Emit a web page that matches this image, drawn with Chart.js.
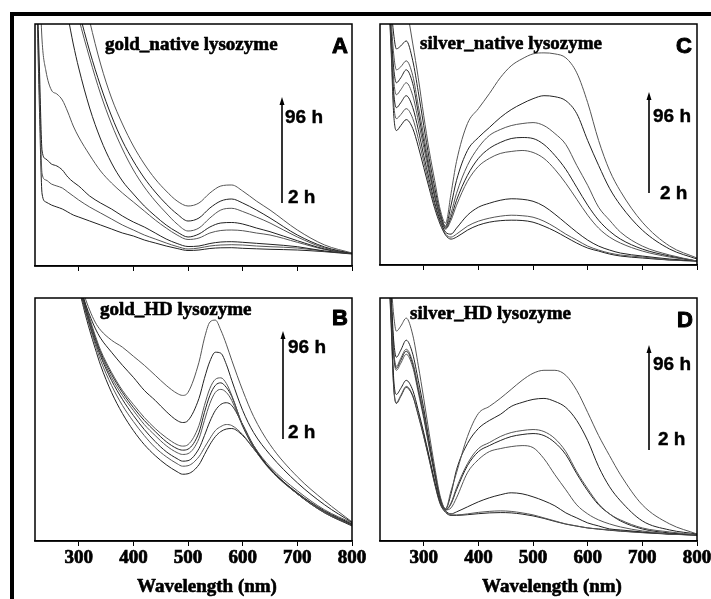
<!DOCTYPE html>
<html>
<head>
<meta charset="utf-8">
<script src="https://cdn.jsdelivr.net/npm/chart.js@4.4.0/dist/chart.umd.min.js"></script>
<style>
  html, body { margin: 0; padding: 0; background: #fff; overflow: hidden; }
  #page { position: relative; width: 711px; height: 599px; overflow: hidden; background: #fff; }
  #frame { position: absolute; left: 10px; top: 12px; width: 720px; height: 600px;
           border-top: 4px solid #000; border-left: 4px solid #000; }
  canvas { position: absolute; }
</style>
</head>
<body>
<div id="page">
  <div id="frame"></div>
  <canvas id="cA" width="357" height="264" style="left:15px;top:22px"></canvas>
  <canvas id="cC" width="357" height="263" style="left:360px;top:22px"></canvas>
  <canvas id="cB" width="357" height="303" style="left:15px;top:296px"></canvas>
  <canvas id="cD" width="357" height="303" style="left:360px;top:296px"></canvas>
</div>
<script>
// x tick labels (nm)
const xTicks = [300, 400, 500, 600, 700, 800];
const xTitle = 'Wavelength (nm)';

// wavelength grids (nm)
const wlGold = [220, 228, 233, 240, 250, 260, 270, 280, 290, 300, 320, 340, 360, 380, 400, 420, 440, 460, 480, 500, 520, 540, 560, 580, 600, 625, 650, 700, 750, 800];
const wlGoldHD = [220, 260, 300, 310, 320, 330, 340, 360, 380, 400, 420, 440, 460, 480, 490, 500, 520, 530, 540, 550, 560, 570, 580, 600, 620, 650, 700, 750, 800];
const wlSilver = [220, 230, 240, 245, 250, 258, 268, 280, 290, 300, 310, 320, 330, 340, 350, 360, 380, 400, 420, 440, 460, 480, 500, 520, 540, 560, 580, 600, 620, 640, 660, 700, 750, 800];

// A: gold_native lysozyme (absorbance)
const gn1 = [6.0, 5.6, 5.3, 5.0, 4.5, 4.1, 3.8, 3.5, 3.2, 2.95, 2.45, 2.02, 1.68, 1.42, 1.2, 1.02, 0.87, 0.75, 0.65, 0.6, 0.63, 0.73, 0.8, 0.81, 0.75, 0.65, 0.56, 0.36, 0.21, 0.13];
const gn2 = [5.5, 5.1, 4.8, 4.5, 4.1, 3.7, 3.4, 3.1, 2.8, 2.56, 2.15, 1.8, 1.5, 1.25, 1.05, 0.88, 0.74, 0.62, 0.52, 0.45, 0.48, 0.58, 0.65, 0.67, 0.63, 0.56, 0.48, 0.31, 0.19, 0.125];
const gn3 = [5.4, 5.0, 4.7, 4.4, 4.0, 3.6, 3.3, 3.0, 2.72, 2.48, 2.08, 1.72, 1.42, 1.17, 0.96, 0.79, 0.65, 0.53, 0.42, 0.35, 0.38, 0.48, 0.56, 0.577, 0.545, 0.49, 0.43, 0.29, 0.18, 0.125];
const gn4 = [4.5, 4.2, 4.0, 3.7, 3.3, 3.0, 2.75, 2.5, 2.22, 1.98, 1.58, 1.27, 1.03, 0.85, 0.72, 0.6, 0.5, 0.41, 0.34, 0.29, 0.32, 0.39, 0.43, 0.435, 0.42, 0.38, 0.343, 0.253, 0.17, 0.125];
const gn5 = [4.0, 2.9, 2.25, 1.95, 1.76, 1.72, 1.66, 1.54, 1.4, 1.29, 1.11, 0.95, 0.83, 0.73, 0.64, 0.55, 0.46, 0.38, 0.31, 0.265, 0.28, 0.33, 0.355, 0.36, 0.353, 0.33, 0.31, 0.237, 0.165, 0.125];
const gn6 = [3.5, 2.0, 1.15, 1.07, 1.02, 1.0, 0.96, 0.89, 0.84, 0.8, 0.7, 0.63, 0.57, 0.5, 0.44, 0.39, 0.33, 0.27, 0.225, 0.195, 0.2, 0.225, 0.24, 0.243, 0.237, 0.227, 0.217, 0.193, 0.15, 0.125];
const gn7 = [3.5, 1.8, 0.92, 0.86, 0.82, 0.8, 0.78, 0.74, 0.7, 0.66, 0.59, 0.53, 0.47, 0.41, 0.36, 0.31, 0.27, 0.23, 0.195, 0.17, 0.18, 0.2, 0.21, 0.213, 0.21, 0.2, 0.193, 0.18, 0.148, 0.125];
const gn8 = [3.5, 1.6, 0.72, 0.64, 0.61, 0.59, 0.57, 0.54, 0.51, 0.49, 0.45, 0.41, 0.37, 0.33, 0.3, 0.26, 0.23, 0.2, 0.175, 0.155, 0.16, 0.175, 0.182, 0.183, 0.177, 0.172, 0.167, 0.16, 0.143, 0.12];

// B: gold_HD lysozyme
const gh1 = [6, 4, 2.65, 2.45, 2.3, 2.18, 2.1, 2.0, 1.93, 1.84, 1.75, 1.65, 1.55, 1.47, 1.45, 1.48, 1.78, 2.02, 2.18, 2.2, 2.1, 1.96, 1.8, 1.5, 1.24, 0.96, 0.64, 0.4, 0.19];
const gh2 = [6, 4, 2.6, 2.4, 2.25, 2.12, 2.02, 1.88, 1.75, 1.63, 1.5, 1.4, 1.29, 1.2, 1.18, 1.2, 1.42, 1.62, 1.79, 1.88, 1.87, 1.76, 1.6, 1.3, 1.08, 0.86, 0.58, 0.36, 0.185];
const gh3 = [6, 4, 2.6, 2.4, 2.22, 2.05, 1.9, 1.68, 1.5, 1.36, 1.23, 1.12, 1.03, 0.96, 0.945, 0.96, 1.15, 1.35, 1.52, 1.61, 1.625, 1.57, 1.45, 1.15, 0.95, 0.74, 0.5, 0.31, 0.18];
const gh4 = [6, 4, 2.58, 2.38, 2.2, 2.03, 1.88, 1.66, 1.48, 1.33, 1.2, 1.09, 0.99, 0.92, 0.905, 0.915, 1.08, 1.28, 1.45, 1.55, 1.575, 1.53, 1.44, 1.15, 0.94, 0.72, 0.48, 0.3, 0.17];
const gh5 = [6, 4, 2.57, 2.37, 2.18, 2.01, 1.86, 1.63, 1.45, 1.3, 1.16, 1.05, 0.95, 0.88, 0.862, 0.87, 1.02, 1.2, 1.37, 1.48, 1.51, 1.48, 1.4, 1.14, 0.93, 0.71, 0.47, 0.29, 0.165];
const gh6 = [6, 4, 2.56, 2.35, 2.16, 1.99, 1.84, 1.6, 1.41, 1.25, 1.11, 0.99, 0.89, 0.82, 0.795, 0.8, 0.92, 1.05, 1.19, 1.3, 1.36, 1.377, 1.35, 1.16, 0.95, 0.72, 0.47, 0.29, 0.16];
const gh7 = [6, 4, 2.55, 2.33, 2.14, 1.96, 1.8, 1.55, 1.35, 1.19, 1.05, 0.93, 0.84, 0.77, 0.745, 0.75, 0.84, 0.93, 1.02, 1.1, 1.14, 1.16, 1.15, 1.06, 0.92, 0.72, 0.47, 0.28, 0.16];
const gh8 = [6, 4, 2.54, 2.3, 2.1, 1.92, 1.75, 1.48, 1.27, 1.1, 0.96, 0.85, 0.76, 0.69, 0.665, 0.67, 0.76, 0.86, 0.96, 1.04, 1.09, 1.115, 1.12, 1.05, 0.92, 0.72, 0.47, 0.28, 0.15];

// C: silver_native lysozyme
const sn1 = [4.5, 4.0, 3.6, 3.4, 3.2, 2.95, 2.62, 2.22, 1.88, 1.5, 1.15, 0.85, 0.56, 0.42, 0.72, 1.04, 1.42, 1.57, 1.72, 1.88, 2.0, 2.07, 2.12, 2.13, 2.12, 2.08, 1.93, 1.63, 1.25, 0.95, 0.74, 0.43, 0.19, 0.07];
const sn2 = [3.8, 3.3, 2.62, 2.32, 2.17, 2.2, 2.25, 2.05, 1.74, 1.4, 1.07, 0.78, 0.53, 0.39, 0.6, 0.85, 1.15, 1.28, 1.38, 1.48, 1.56, 1.62, 1.67, 1.7, 1.69, 1.65, 1.52, 1.25, 1.0, 0.77, 0.6, 0.35, 0.16, 0.06];
const sn3 = [3.8, 3.3, 2.5, 2.12, 1.96, 1.99, 2.05, 1.9, 1.6, 1.3, 1.0, 0.72, 0.5, 0.38, 0.52, 0.72, 1.0, 1.18, 1.3, 1.36, 1.4, 1.42, 1.43, 1.4, 1.32, 1.21, 1.0, 0.8, 0.58, 0.45, 0.33, 0.19, 0.1, 0.04];
const sn4 = [3.8, 3.3, 2.4, 1.98, 1.83, 1.88, 1.96, 1.82, 1.53, 1.24, 0.96, 0.7, 0.49, 0.37, 0.48, 0.65, 0.9, 1.07, 1.17, 1.23, 1.27, 1.28, 1.27, 1.21, 1.1, 0.96, 0.78, 0.6, 0.45, 0.34, 0.26, 0.16, 0.09, 0.04];
const sn5 = [3.8, 3.3, 2.35, 1.86, 1.71, 1.76, 1.83, 1.7, 1.45, 1.18, 0.92, 0.68, 0.48, 0.36, 0.45, 0.6, 0.84, 0.99, 1.07, 1.12, 1.14, 1.15, 1.13, 1.07, 0.96, 0.82, 0.66, 0.5, 0.37, 0.28, 0.22, 0.14, 0.08, 0.04];
const sn6 = [3.8, 3.3, 2.3, 1.74, 1.58, 1.63, 1.7, 1.58, 1.36, 1.1, 0.86, 0.63, 0.45, 0.33, 0.31, 0.37, 0.5, 0.58, 0.62, 0.65, 0.665, 0.66, 0.64, 0.59, 0.51, 0.42, 0.33, 0.25, 0.19, 0.15, 0.12, 0.09, 0.06, 0.04];
const sn7 = [3.8, 3.3, 2.25, 1.63, 1.47, 1.51, 1.57, 1.47, 1.27, 1.04, 0.81, 0.6, 0.43, 0.31, 0.28, 0.31, 0.39, 0.44, 0.47, 0.49, 0.5, 0.495, 0.48, 0.44, 0.38, 0.31, 0.25, 0.19, 0.15, 0.12, 0.1, 0.08, 0.05, 0.04];
const sn8 = [3.8, 3.3, 2.2, 1.52, 1.35, 1.4, 1.46, 1.37, 1.19, 0.98, 0.77, 0.57, 0.41, 0.3, 0.26, 0.28, 0.35, 0.4, 0.43, 0.445, 0.45, 0.447, 0.43, 0.39, 0.34, 0.28, 0.22, 0.17, 0.14, 0.11, 0.09, 0.07, 0.05, 0.04];

// D: silver_HD lysozyme
const sh1 = [3.8, 3.3, 2.6, 2.25, 2.09, 2.14, 2.22, 2.05, 1.75, 1.42, 1.07, 0.74, 0.45, 0.32, 0.5, 0.68, 1.04, 1.27, 1.34, 1.42, 1.51, 1.6, 1.67, 1.7, 1.7, 1.65, 1.5, 1.28, 1.05, 0.85, 0.66, 0.36, 0.17, 0.07];
const sh2 = [3.8, 3.3, 2.5, 2.0, 1.83, 1.9, 2.0, 1.86, 1.6, 1.32, 1.0, 0.7, 0.43, 0.32, 0.47, 0.71, 0.97, 1.12, 1.2, 1.26, 1.34, 1.38, 1.41, 1.42, 1.39, 1.33, 1.2, 1.0, 0.74, 0.54, 0.4, 0.2, 0.11, 0.07];
const sh3 = [3.8, 3.3, 2.45, 1.9, 1.74, 1.82, 1.91, 1.78, 1.53, 1.27, 0.96, 0.68, 0.42, 0.31, 0.38, 0.53, 0.77, 0.92, 0.98, 1.04, 1.08, 1.1, 1.11, 1.09, 1.02, 0.89, 0.69, 0.52, 0.37, 0.27, 0.21, 0.13, 0.09, 0.06];
const sh4 = [3.8, 3.3, 2.42, 1.88, 1.72, 1.8, 1.89, 1.76, 1.51, 1.25, 0.95, 0.67, 0.42, 0.31, 0.37, 0.51, 0.75, 0.89, 0.95, 1.0, 1.04, 1.06, 1.07, 1.05, 0.98, 0.86, 0.67, 0.5, 0.36, 0.27, 0.2, 0.12, 0.08, 0.06];
const sh5 = [3.8, 3.3, 2.4, 1.85, 1.7, 1.77, 1.86, 1.73, 1.48, 1.22, 0.93, 0.66, 0.41, 0.31, 0.33, 0.43, 0.68, 0.81, 0.89, 0.92, 0.94, 0.95, 0.93, 0.82, 0.66, 0.51, 0.36, 0.27, 0.21, 0.17, 0.14, 0.1, 0.07, 0.06];
const sh6 = [3.8, 3.3, 2.3, 1.62, 1.46, 1.52, 1.6, 1.5, 1.3, 1.08, 0.84, 0.6, 0.39, 0.3, 0.27, 0.29, 0.34, 0.39, 0.43, 0.46, 0.48, 0.47, 0.44, 0.4, 0.35, 0.28, 0.23, 0.18, 0.15, 0.12, 0.11, 0.09, 0.07, 0.06];
const sh7 = [3.8, 3.3, 2.25, 1.55, 1.38, 1.45, 1.54, 1.45, 1.26, 1.05, 0.82, 0.58, 0.38, 0.29, 0.26, 0.26, 0.27, 0.285, 0.295, 0.3, 0.295, 0.28, 0.26, 0.23, 0.2, 0.17, 0.15, 0.13, 0.12, 0.11, 0.1, 0.085, 0.07, 0.06];
const sh8 = [3.8, 3.3, 2.2, 1.53, 1.37, 1.44, 1.53, 1.44, 1.25, 1.04, 0.81, 0.57, 0.37, 0.285, 0.255, 0.255, 0.262, 0.272, 0.28, 0.283, 0.28, 0.268, 0.25, 0.225, 0.195, 0.168, 0.148, 0.13, 0.118, 0.107, 0.098, 0.083, 0.068, 0.058];

const lineColors = ['#555', '#222'];

// texto con un poco de trazo para que pese como el original
function heavyText(ctx, txt, x, y, w) {
  ctx.lineWidth = w;
  ctx.strokeText(txt, x, y);
  ctx.fillText(txt, x, y);
}

// marco, letra, titulo, flecha y titulo del eje x (coords de pagina)
const panelDecor = {
  id: 'panelDecor',
  afterDraw(chart, args, o) {
    const ctx = chart.ctx;
    const a = chart.chartArea;
    const ox = chart.canvas.offsetLeft, oy = chart.canvas.offsetTop;
    ctx.save();
    ctx.strokeStyle = '#000';
    ctx.lineWidth = 1.5;
    ctx.strokeRect(a.left, a.top, a.right - a.left, a.bottom - a.top);

    ctx.fillStyle = '#000';
    ctx.lineJoin = 'round';
    ctx.textBaseline = 'alphabetic';
    ctx.textAlign = 'left';
    ctx.font = 'bold 19px "Liberation Serif"';
    heavyText(ctx, o.title, o.tx - ox, o.ty - oy, 0.6);

    ctx.textAlign = 'right';
    ctx.font = 'bold 22px "Liberation Sans"';
    heavyText(ctx, o.letter, o.lx - ox, o.ly - oy, 1);

    ctx.textAlign = 'left';
    ctx.font = 'bold 19px "Liberation Sans"';
    heavyText(ctx, '96 h', o.hx - ox, o.hy - oy, 0.4);
    heavyText(ctx, '2 h', o.bx - ox, o.by - oy, 0.4);

    if (o.wx) {
      ctx.textAlign = 'center';
      ctx.font = 'bold 19px "Liberation Serif"';
      heavyText(ctx, xTitle, o.wx - ox, o.wy - oy, 0.6);
    }

    // flecha
    const x = o.ax - ox;
    ctx.lineWidth = 1.6;
    ctx.beginPath();
    ctx.moveTo(x, o.a2 - oy);
    ctx.lineTo(x, o.a1 - oy + 5);
    ctx.stroke();
    ctx.beginPath();
    ctx.moveTo(x, o.a1 - oy);
    ctx.lineTo(x - 2.5, o.a1 - oy + 8);
    ctx.lineTo(x + 2.5, o.a1 - oy + 8);
    ctx.closePath();
    ctx.fill();
    ctx.restore();
  }
};

function makePanel(id, wl, series, decor, showLabels) {
  const el = document.getElementById(id);
  return new Chart(el, {
    type: 'line',
    data: {
      datasets: series.map((s, i) => ({
        data: wl.map((x, j) => ({ x: x, y: s[j] })),
        borderColor: lineColors[i % lineColors.length],
        borderWidth: 1,
        pointRadius: 0,
        cubicInterpolationMode: 'monotone',
        fill: false
      }))
    },
    options: {
      responsive: false,
      animation: false,
      devicePixelRatio: 1,
      layout: { padding: { left: 20, right: 20, top: 2, bottom: 0 } },
      plugins: {
        legend: { display: false },
        tooltip: { enabled: false },
        panelDecor: decor
      },
      scales: {
        x: {
          type: 'linear',
          min: 220,
          max: 800,
          afterBuildTicks: s => { s.ticks = xTicks.map(v => ({ value: v })); },
          afterFit: s => { s.height = showLabels ? 58 : 20; },
          grid: { drawOnChartArea: false, drawTicks: true, tickLength: 5, color: '#000', lineWidth: 1 },
          border: { display: true, color: '#000', width: 1.5 },
          ticks: {
            display: showLabels,
            autoSkip: false,
            maxRotation: 0,
            padding: 1,
            color: '#000',
            textStrokeColor: '#000',
            textStrokeWidth: 0.7,
            font: { family: 'Liberation Serif', size: 19, weight: 'bold' }
          }
        },
        y: { display: false, min: 0, max: 2.42 }
      }
    },
    plugins: [panelDecor]
  });
}

makePanel('cA', wlGold, [gn1, gn2, gn3, gn4, gn5, gn6, gn7, gn8], {
  title: 'gold_native lysozyme', tx: 105, ty: 50, letter: 'A', lx: 348, ly: 53,
  ax: 282, a1: 97, a2: 203, hx: 285, hy: 123, bx: 288, by: 203
}, false);

makePanel('cC', wlSilver, [sn1, sn2, sn3, sn4, sn5, sn6, sn7, sn8], {
  title: 'silver_native lysozyme', tx: 420, ty: 49, letter: 'C', lx: 692, ly: 53,
  ax: 649, a1: 92, a2: 193, hx: 653, hy: 122, bx: 660, by: 199
}, false);

makePanel('cB', wlGoldHD, [gh1, gh2, gh3, gh4, gh5, gh6, gh7, gh8], {
  title: 'gold_HD lysozyme', tx: 100, ty: 315, letter: 'B', lx: 348, ly: 325,
  ax: 283, a1: 331, a2: 439, hx: 288, hy: 353, bx: 288, by: 438,
  wx: 207, wy: 592
}, true);

makePanel('cD', wlSilver, [sh1, sh2, sh3, sh4, sh5, sh6, sh7, sh8], {
  title: 'silver_HD lysozyme', tx: 410, ty: 319, letter: 'D', lx: 693, ly: 327,
  ax: 649, a1: 345, a2: 450, hx: 653, hy: 370, bx: 658, by: 445,
  wx: 552, wy: 592
}, true);
</script>
</body>
</html>
